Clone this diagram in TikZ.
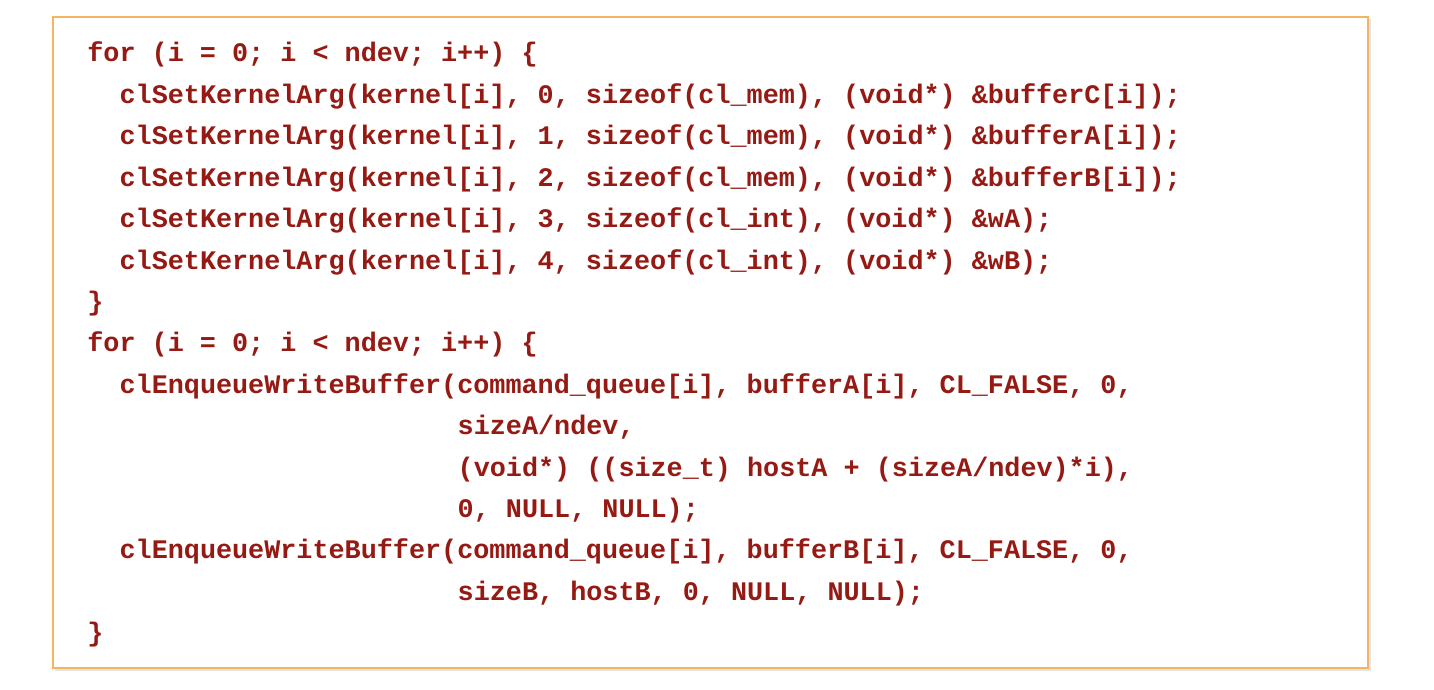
\documentclass[tikz,border=0pt]{standalone}
\usepackage{fontspec}
\setmonofont{Liberation Mono}
\usepackage{tikz}
\definecolor{codered}{RGB}{150,26,20}
\definecolor{boxorange}{RGB}{244,180,98}
\tikzset{codeline/.style={anchor=base west,inner sep=0pt,text=codered,
                          font=\ttfamily\bfseries\fontsize{13.4}{16}\selectfont}}
\newcommand{\cx}[1]{87+16.1*#1}   % column -> x
\newcommand{\cy}[1]{62+41.4*#1}   % line -> y

\begin{document}
\begin{tikzpicture}[x=0.5pt,y=-0.5pt]
                \useasboundingbox (0,0) rectangle (1434,690);
                \fill[black!10] (55,19) rectangle (1371,671);
                \draw[fill=white,draw=boxorange,line width=0.8pt] (53,17) rectangle (1368,668);
                    % first loop
                    \node[codeline] (l1) at ({\cx{0}},{\cy{0}}) {for (i = 0; i < ndev; i++) \{};
                    \node[codeline] (l2) at ({\cx{2}},{\cy{1}}) {clSetKernelArg(kernel[i], 0, sizeof(cl\_mem), (void*) \&bufferC[i]);};
                    \node[codeline] (l3) at ({\cx{2}},{\cy{2}}) {clSetKernelArg(kernel[i], 1, sizeof(cl\_mem), (void*) \&bufferA[i]);};
                    \node[codeline] (l4) at ({\cx{2}},{\cy{3}}) {clSetKernelArg(kernel[i], 2, sizeof(cl\_mem), (void*) \&bufferB[i]);};
                    \node[codeline] (l5) at ({\cx{2}},{\cy{4}}) {clSetKernelArg(kernel[i], 3, sizeof(cl\_int), (void*) \&wA);};
                    \node[codeline] (l6) at ({\cx{2}},{\cy{5}}) {clSetKernelArg(kernel[i], 4, sizeof(cl\_int), (void*) \&wB);};
                    \node[codeline] (l7) at ({\cx{0}},{\cy{6}}) {\}};
                    % second loop
                    \node[codeline] (l8) at ({\cx{0}},{\cy{7}}) {for (i = 0; i < ndev; i++) \{};
                    \node[codeline] (l9) at ({\cx{2}},{\cy{8}}) {clEnqueueWriteBuffer(command\_queue[i], bufferA[i], CL\_FALSE, 0,};
                    \node[codeline] (l10) at ({\cx{23}},{\cy{9}}) {sizeA/ndev,};
                    \node[codeline] (l11) at ({\cx{23}},{\cy{10}}) {(void*) ((size\_t) hostA + (sizeA/ndev)*i),};
                    \node[codeline] (l12) at ({\cx{23}},{\cy{11}}) {0, NULL, NULL);};
                    \node[codeline] (l13) at ({\cx{2}},{\cy{12}}) {clEnqueueWriteBuffer(command\_queue[i], bufferB[i], CL\_FALSE, 0,};
                    \node[codeline] (l14) at ({\cx{23}},{\cy{13}}) {sizeB, hostB, 0, NULL, NULL);};
                    \node[codeline] (l15) at ({\cx{0}},{\cy{14}}) {\}};
                \end{tikzpicture}
\end{document}
